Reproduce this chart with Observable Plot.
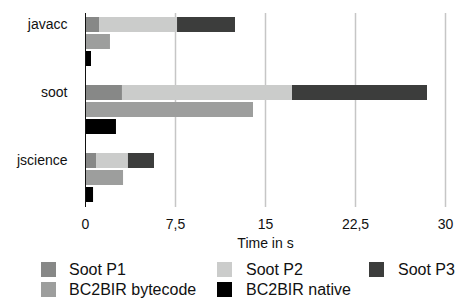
<!DOCTYPE html>
<html>
<head>
<meta charset="utf-8">
<script src="https://cdn.jsdelivr.net/npm/d3@7"></script>
<script src="https://cdn.jsdelivr.net/npm/@observablehq/plot@0.6"></script>
<style>
  body { margin: 0; background: #fff; font-family: "Liberation Sans", Arial, Helvetica, sans-serif; }
  #wrap { position: relative; width: 456px; height: 300px; overflow: hidden; }
  #legend { position: absolute; left: 41px; top: 262px; display: grid;
    grid-template-columns: 28px 148px 29px 123px 29px auto; grid-auto-rows: 20px;
    font-size: 16px; color: #111; align-items: start; white-space: nowrap; }
  #legend .txt { line-height: 15px; }
  .sw { width: 15px; height: 15px; }
</style>
</head>
<body>
<div id="wrap"></div>
<script>
const programs = ["javacc", "soot", "jscience"];
const sootP1 = [1.17, 3.08, 0.92];
const sootP2 = [6.5, 14.17, 2.66];
const sootP3 = [4.83, 11.25, 2.17];
const bc2birBytecode = [2.08, 14.0, 3.17];
const bc2birNative = [0.5, 2.58, 0.67];
const xTicks = [0, 7.5, 15, 22.5, 30];
const seriesNames = ["Soot P1", "Soot P2", "Soot P3", "BC2BIR bytecode", "BC2BIR native"];
const seriesColors = ["#878887", "#cbcccb", "#3c3d3c", "#9d9e9d", "#000000"];

const rows = [];
const data = [];
programs.forEach((p, i) => {
  if (i > 0) rows.push("gap" + i);
  rows.push(p + "|soot", p + "|bc", p + "|nat");
  data.push({row: p + "|soot", series: "Soot P1", value: sootP1[i]});
  data.push({row: p + "|soot", series: "Soot P2", value: sootP2[i]});
  data.push({row: p + "|soot", series: "Soot P3", value: sootP3[i]});
  data.push({row: p + "|bc", series: "BC2BIR bytecode", value: bc2birBytecode[i]});
  data.push({row: p + "|nat", series: "BC2BIR native", value: bc2birNative[i]});
});

const H = 256;
const chart = Plot.plot({
  width: 456,
  height: H,
  marginTop: 13,
  marginBottom: H - 207,
  marginLeft: 85,
  marginRight: 11,
  style: {fontFamily: "'Liberation Sans', Arial, Helvetica, sans-serif", color: "#111", background: "#fff"},
  x: {domain: [0, 30]},
  y: {type: "band", domain: rows, paddingInner: 0.1, paddingOuter: 0},
  color: {domain: seriesNames, range: seriesColors},
  marks: [
    Plot.ruleX(xTicks.filter(d => d > 0), {stroke: "#c6c6c6", strokeWidth: 1.5}),
    Plot.barX(data, {x: "value", y: "row", fill: "series"}),
    Plot.ruleX([0], {stroke: "#111", strokeWidth: 1}),
    Plot.axisX(xTicks, {tickSize: 0, tickPadding: 12, fontSize: 14, label: null,
      tickFormat: d => String(d).replace(".", ",")}),
    Plot.axisY(programs.map(p => p + "|soot"), {tickSize: 0, tickPadding: 18, fontSize: 14, label: null,
      tickFormat: d => d.split("|")[0]}),
    Plot.text(["Time in s"], {frameAnchor: "bottom", dy: 40, fontSize: 14, fill: "#111"})
  ]
});
const wrap = document.getElementById("wrap");
wrap.appendChild(chart);

const legend = document.createElement("div");
legend.id = "legend";
seriesNames.forEach((name, i) => {
  const cell = document.createElement("div");
  const s = document.createElement("div");
  s.className = "sw";
  s.style.background = seriesColors[i];
  cell.appendChild(s);
  const t = document.createElement("div");
  t.className = "txt";
  t.textContent = name;
  legend.appendChild(cell);
  legend.appendChild(t);
});
wrap.appendChild(legend);
</script>
</body>
</html>
